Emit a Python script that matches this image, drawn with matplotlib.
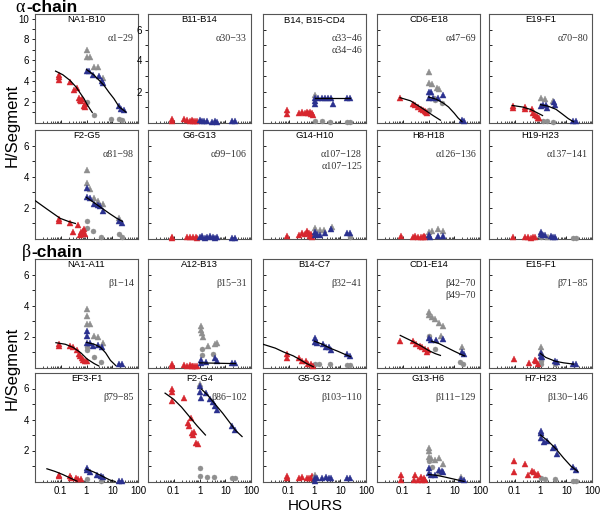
import matplotlib.pyplot as plt
from matplotlib.ticker import FixedLocator, NullFormatter

# panel titles (structural segments) and peptide labels, row by row
titles = ["NA1-B10", "B11-B14", "B14, B15-CD4", "CD6-E18", "E19-F1",
          "F2-G5", "G6-G13", "G14-H10", "H8-H18", "H19-H23",
          "NA1-A11", "A12-B13", "B14-C7", "CD1-E14", "E15-F1",
          "EF3-F1", "F2-G4", "G5-G12", "G13-H6", "H7-H23"]
segments = [["α1−29"], ["α30−33"], ["α33−46", "α34−46"], ["α47−69"], ["α70−80"],
            ["α81−98"], ["α99−106"], ["α107−128", "α107−125"], ["α126−136"], ["α137−141"],
            ["β1−14"], ["β15−31"], ["β32−41"], ["β42−70", "β49−70"], ["β71−85"],
            ["β79−85"], ["β86−102"], ["β103−110"], ["β111−129"], ["β130−146"]]
ymax = [10.45] + [7.0] * 19

# (hours, H/segment)
red_tri = {
    "NA1-B10": [(0.083, 4.6), (0.083, 4.1), (0.085, 4.4), (0.22, 3.9), (0.33, 3.1), (0.42, 3.3),
                (0.5, 2.4), (0.55, 2.2), (0.6, 2.1), (0.67, 2.3), (0.83, 1.6), (0.9, 1.5), (0.85, 1.8)],
    "B11-B14": [(0.083, 0.25), (0.083, 0.12), (0.25, 0.2), (0.33, 0.15), (0.42, 0.1), (0.5, 0.15),
                (0.58, 0.1), (0.67, 0.12), (0.83, 0.1)],
    "B14, B15-CD4": [(0.083, 0.8), (0.083, 0.55), (0.25, 0.6), (0.33, 0.65), (0.42, 0.6), (0.5, 0.7),
                     (0.58, 0.6), (0.67, 0.65), (0.75, 0.55), (0.83, 0.6), (0.9, 0.5)],
    "CD6-E18": [(0.08, 1.6), (0.26, 1.2), (0.3, 1.1), (0.4, 1.0), (0.5, 0.9), (0.6, 0.8),
                (0.7, 0.75), (0.8, 0.65), (0.9, 0.6)],
    "E19-F1": [(0.083, 1.05), (0.083, 0.95), (0.26, 1.0), (0.26, 0.9), (0.45, 0.85), (0.5, 0.6),
               (0.6, 0.5), (0.7, 0.4), (0.8, 0.3), (0.9, 0.3)],
    "F2-G5": [(0.083, 1.25), (0.083, 1.1), (0.22, 1.0), (0.3, 0.43), (0.45, 0.85), (0.55, 0.2),
              (0.6, 0.45), (0.7, 0.3), (0.72, 0.5), (0.8, 0.6), (0.85, 0.3)],
    "G6-G13": [(0.083, 0.1), (0.083, 0.05), (0.33, 0.08), (0.42, 0.1), (0.58, 0.1), (0.75, 0.08),
               (0.83, 0.05)],
    "G14-H10": [(0.083, 0.15), (0.25, 0.2), (0.33, 0.35), (0.42, 0.3), (0.5, 0.5), (0.6, 0.35),
                (0.67, 0.15), (0.75, 0.3), (0.83, 0.1)],
    "H8-H18": [(0.083, 0.15), (0.25, 0.1), (0.3, 0.15), (0.4, 0.1), (0.5, 0.12), (0.6, 0.1),
               (0.67, 0.15), (0.75, 0.1)],
    "H19-H23": [(0.083, 0.1), (0.25, 0.08), (0.33, 0.1), (0.42, 0.05), (0.5, 0.1), (0.6, 0.08)],
    "NA1-A11": [(0.083, 1.53), (0.083, 1.38), (0.23, 1.38), (0.3, 1.3), (0.42, 1.1), (0.5, 0.9),
                (0.58, 0.75), (0.65, 0.6), (0.7, 0.5), (0.85, 0.45), (1.0, 0.4)],
    "A12-B13": [(0.083, 0.2), (0.083, 0.1), (0.25, 0.15), (0.33, 0.1), (0.42, 0.15), (0.5, 0.1),
                (0.58, 0.08), (0.67, 0.1), (0.83, 0.12)],
    "B14-C7": [(0.083, 0.85), (0.083, 0.6), (0.25, 0.6), (0.33, 0.45), (0.48, 0.4), (0.55, 0.25),
               (0.7, 0.2), (0.9, 0.1)],
    "CD1-E14": [(0.08, 1.68), (0.25, 1.68), (0.33, 1.5), (0.45, 1.4), (0.55, 1.3), (0.7, 1.2),
                (0.85, 1.0), (0.95, 1.15)],
    "E15-F1": [(0.09, 0.52), (0.35, 0.3), (0.6, 0.5), (0.65, 0.4), (0.8, 0.25)],
    "EF3-F1": [(0.083, 0.45), (0.083, 0.35), (0.23, 0.35), (0.26, 0.2), (0.4, 0.2), (0.45, 0.15),
               (0.6, 0.15)],
    "F2-G4": [(0.083, 6.0), (0.083, 5.8), (0.083, 5.2), (0.25, 5.4), (0.35, 3.8), (0.38, 3.6),
              (0.45, 4.1), (0.5, 3.1), (0.55, 3.0), (0.6, 3.2), (0.75, 2.5), (0.85, 2.4)],
    "G5-G12": [(0.089, 0.35), (0.089, 0.2), (0.26, 0.25), (0.33, 0.3), (0.5, 0.2), (0.6, 0.25),
               (0.7, 0.2), (0.8, 0.35)],
    "G13-H6": [(0.083, 0.45), (0.083, 0.1), (0.3, 0.45), (0.28, 0.1), (0.4, 0.1), (0.5, 0.3),
               (0.58, 0.1), (0.67, 0.2), (0.75, 0.1)],
    "H7-H23": [(0.09, 1.3), (0.09, 0.6), (0.26, 1.15), (0.33, 0.45), (0.45, 0.7), (0.55, 0.6),
               (0.65, 0.45), (0.8, 0.5)],
}

blue_tri = {
    "NA1-B10": [(1.0, 5.0), (1.3, 4.95), (1.8, 4.55), (3.0, 4.45), (4.5, 3.8), (4.0, 4.0),
                (18, 1.55), (22, 1.3), (28, 1.2)],
    "B11-B14": [(1.0, 0.15), (1.2, 0.1), (1.5, 0.1), (2.0, 0.12), (3.0, 0.05), (4.0, 0.1),
                (5.0, 0.05), (18, 0.1), (25, 0.1)],
    "B14, B15-CD4": [(1.0, 1.6), (1.0, 1.4), (1.0, 1.2), (1.4, 1.6), (2.0, 1.55), (2.5, 1.55),
                     (3.2, 1.6), (4.2, 1.55), (5.4, 1.2), (18, 1.6), (24, 1.6)],
    "CD6-E18": [(1.0, 2.0), (1.2, 1.95), (1.0, 1.6), (1.5, 1.55), (2.3, 1.6), (3.5, 1.8),
                (20, 0.15), (24, 0.1)],
    "E19-F1": [(1.0, 1.05), (1.3, 1.1), (1.6, 1.1), (1.8, 0.95), (3.2, 1.3), (3.5, 1.1),
               (19, 0.1), (25, 0.1)],
    "F2-G5": [(1.0, 3.25), (1.0, 2.65), (1.4, 2.6), (2.0, 2.2), (2.8, 2.15), (3.3, 2.1),
              (4.5, 1.8), (18, 1.1), (25, 1.0)],
    "G6-G13": [(1.0, 0.1), (1.3, 0.15), (1.6, 0.05), (2.0, 0.12), (2.5, 0.15), (3.2, 0.1),
               (4.0, 0.05), (5.0, 0.1), (18, 0.05), (25, 0.05)],
    "G14-H10": [(1.0, 0.45), (1.0, 0.2), (1.3, 0.3), (1.6, 0.25), (2.5, 0.35), (4.5, 0.6),
                (18, 0.35), (24, 0.35)],
    "H8-H18": [(1.0, 0.2), (1.1, 0.1), (2.3, 0.15), (3.5, 0.15)],
    "H19-H23": [(1.0, 0.45), (1.0, 0.3), (1.2, 0.2), (1.5, 0.2), (2.5, 0.15), (3.0, 0.1), (3.5, 0.12)],
    "NA1-A11": [(1.0, 2.35), (1.0, 2.05), (1.0, 1.55), (1.4, 1.55), (1.8, 1.4), (2.8, 1.45),
                (4.0, 1.3), (18, 0.2), (25, 0.2)],
    "A12-B13": [(1.1, 0.5), (1.1, 0.3), (1.8, 0.35), (3.9, 0.6), (5.0, 0.4), (18, 0.3), (25, 0.3)],
    "B14-C7": [(1.0, 1.9), (1.0, 1.65), (1.3, 1.55), (2.1, 1.5), (2.8, 1.35), (3.7, 1.3),
               (4.2, 1.1), (18, 0.85), (24, 0.75)],
    "CD1-E14": [(1.0, 1.9), (1.3, 1.8), (1.9, 1.8), (3.5, 1.85), (20, 1.0), (25, 0.9)],
    "E15-F1": [(1.0, 0.95), (1.0, 0.75), (1.1, 0.7), (3.8, 0.45), (4.2, 0.35), (19, 0.25), (25, 0.25)],
    "EF3-F1": [(1.0, 0.85), (1.0, 0.75), (1.35, 0.6), (2.6, 0.4), (3.5, 0.35), (4.5, 0.3),
               (18, 0.05), (25, 0.05)],
    "F2-G4": [(1.0, 6.17), (1.0, 5.8), (1.1, 5.4), (1.8, 5.7), (2.6, 5.3), (3.3, 5.1), (4.0, 4.9),
              (4.8, 4.6), (18, 3.6), (24, 3.3)],
    "G5-G12": [(1.0, 0.2), (1.0, 0.05), (1.3, 0.2), (1.9, 0.25), (2.7, 0.3), (3.7, 0.25),
               (4.5, 0.25), (18, 0.2), (24, 0.2)],
    "G13-H6": [(1.0, 0.85), (1.0, 0.55), (1.3, 0.45), (1.8, 0.45), (2.5, 0.75), (3.2, 0.7),
               (3.6, 0.6), (18, 0.15), (24, 0.1)],
    "H7-H23": [(1.0, 3.25), (1.0, 3.1), (1.0, 2.8), (1.4, 2.55), (1.8, 2.6), (3.0, 2.15),
               (3.5, 2.25), (4.3, 1.75), (18, 0.95), (25, 0.75)],
}

gray_tri = {
    "NA1-B10": [(1.0, 7.0), (1.0, 6.3), (1.35, 6.3), (2.0, 5.35), (2.9, 5.3), (4.2, 4.25)],
    "B14, B15-CD4": [(1.0, 1.8)],
    "CD6-E18": [(1.0, 3.25), (1.0, 2.55), (1.4, 2.5), (2.1, 2.2), (2.6, 2.15)],
    "E19-F1": [(1.0, 1.6), (1.5, 1.5), (3.0, 1.4)],
    "F2-G5": [(1.0, 4.4), (1.0, 3.6), (1.35, 3.2), (2.0, 2.6), (2.8, 2.4), (4.2, 2.2), (18, 1.35)],
    "G14-H10": [(1.0, 0.7), (1.6, 0.55), (2.3, 0.55), (4.8, 0.75)],
    "H8-H18": [(1.0, 0.45), (1.35, 0.5), (2.4, 0.6), (3.5, 0.5)],
    "H19-H23": [(2.0, 0.12)],
    "NA1-A11": [(1.0, 3.8), (1.0, 3.35), (1.0, 2.8), (1.4, 2.8), (2.0, 2.05), (2.8, 2.0), (4.5, 1.6)],
    "A12-B13": [(1.1, 2.7), (1.1, 2.4), (1.2, 2.2), (1.4, 2.0), (2.1, 1.4), (3.9, 1.5), (4.6, 1.55)],
    "CD1-E14": [(1.0, 3.6), (1.0, 3.4), (1.35, 3.25), (1.8, 3.1), (2.5, 2.85), (3.5, 2.7),
                (3.0, 2.05), (20, 1.3)],
    "E15-F1": [(1.0, 1.3), (1.0, 1.0)],
    "F2-G4": [(1.0, 6.3)],
    "G5-G12": [(1.0, 0.45)],
    "G13-H6": [(1.0, 2.18), (1.0, 2.0), (1.0, 1.55), (1.3, 1.5), (1.8, 1.4), (2.5, 1.5),
               (3.5, 1.1), (18, 0.3)],
    "H7-H23": [(1.0, 3.1)],
}

gray_dot = {
    "NA1-B10": [(1.0, 2.0), (1.9, 0.7), (8.7, 0.35), (18, 0.3), (25, 0.25)],
    "B14, B15-CD4": [(1.0, 0.1), (2.0, 0.07), (4.0, 0.05), (18, 0.05), (24, 0.05)],
    "CD6-E18": [(1.6, 1.6), (1.8, 1.45), (1.0, 0.8), (3.2, 1.25)],
    "E19-F1": [(1.3, 0.1), (1.8, 0.07), (3.0, 0.05)],
    "F2-G5": [(1.0, 1.1), (1.0, 0.65), (1.8, 0.48), (3.7, 0.1), (18, 0.3), (25, 0.1)],
    "G14-H10": [(24, 0.1)],
    "H19-H23": [(1.0, 0.1), (19, 0.05), (25, 0.05)],
    "NA1-A11": [(1.0, 1.15), (1.0, 1.3), (2.0, 0.7), (3.6, 0.35)],
    "A12-B13": [(1.2, 1.2), (3.4, 0.9), (1.2, 0.8)],
    "B14-C7": [(1.0, 0.2), (1.5, 0.2), (3.9, 0.2), (18, 0.15), (24, 0.15)],
    "CD1-E14": [(1.0, 2.05), (1.8, 1.2), (17, 0.35), (22, 0.25)],
    "E15-F1": [(1.0, 0.4), (1.0, 0.25), (3.8, 0.25)],
    "EF3-F1": [(1.0, 0.15), (3.6, 0.05)],
    "F2-G4": [(1.0, 0.9), (1.0, 0.35), (2.0, 0.3), (3.5, 0.3), (18, 0.2), (24, 0.2)],
    "G13-H6": [(1.0, 1.3), (1.4, 0.95), (2.5, 0.55)],
    "H7-H23": [(1.0, 0.25), (1.5, 0.15), (3.5, 0.15), (18, 0.05), (25, 0.05)],
}

# fitted curves
fits = {
    "NA1-B10": [([0.063, 0.12, 0.23, 0.4, 0.58, 0.8, 1.05, 1.4, 1.67],
                 [4.95, 4.6, 4.05, 3.4, 2.8, 2.3, 1.75, 1.25, 0.97]),
                ([1, 1.9, 3, 4.7, 7.5, 11.6, 18.6, 34],
                 [5.1, 4.6, 4.1, 3.6, 2.9, 2.3, 1.5, 1.0])],
    "B14, B15-CD4": [([1, 25], [1.6, 1.6])],
    "CD6-E18": [([0.079, 0.2, 0.48, 0.9, 1.5, 2.9], [1.6, 1.4, 1.0, 0.7, 0.45, 0.15]),
                ([1, 2, 3.8, 6, 10, 14, 20], [1.65, 1.5, 1.25, 1.0, 0.6, 0.3, 0.05])],
    "E19-F1": [([0.08, 0.2, 0.4, 0.7, 1.2], [1.1, 1.0, 0.85, 0.65, 0.45]),
               ([1, 2, 4, 7, 12, 19], [1.15, 1.05, 0.85, 0.55, 0.25, 0.05])],
    "F2-G5": [([0.01, 0.029, 0.095, 0.2, 0.37], [2.45, 1.9, 1.3, 1.1, 0.97]),
              ([1, 2, 4, 8, 15, 25], [2.65, 2.3, 1.95, 1.6, 1.3, 1.1])],
    "NA1-A11": [([0.065, 0.15, 0.3, 0.6, 1.05, 2, 3], [1.6, 1.5, 1.3, 0.95, 0.55, 0.25, 0.1]),
                ([1, 2, 3.5, 5.5, 8.5, 13.6], [1.62, 1.5, 1.3, 0.95, 0.46, 0.13])],
    "A12-B13": [([1, 25], [0.3, 0.25])],
    "B14-C7": [([0.01, 0.03, 0.063, 0.15, 0.28, 0.5, 0.9], [1.5, 1.25, 1.0, 0.75, 0.5, 0.25, 0.05]),
               ([1, 2, 4, 8, 15, 25], [1.7, 1.5, 1.25, 1.05, 0.85, 0.7])],
    "CD1-E14": [([0.08, 0.2, 0.48, 1.0, 1.8, 2.9], [2.07, 1.75, 1.42, 1.1, 0.9, 0.78]),
                ([1.3, 2.5, 5, 10, 18, 25], [1.7, 1.55, 1.3, 1.05, 0.85, 0.75])],
    "E15-F1": [([1, 1.6, 3.8, 8, 19], [0.9, 0.65, 0.4, 0.3, 0.22])],
    "EF3-F1": [([0.029, 0.06, 0.12, 0.25, 0.43], [0.82, 0.65, 0.45, 0.2, 0.02]),
               ([1, 2, 4, 8, 13], [0.8, 0.6, 0.35, 0.1, 0.0])],
    "F2-G4": [([0.046, 0.1, 0.2, 0.4, 0.8, 1.7], [5.7, 5.3, 4.8, 4.2, 3.6, 3.0]),
              ([1.2, 2, 4, 8, 15, 25, 45], [5.95, 5.6, 5.0, 4.4, 3.8, 3.3, 2.9])],
    "G13-H6": [([1, 2, 4, 10, 24], [0.45, 0.4, 0.3, 0.15, 0.0])],
    "H7-H23": [([1, 2, 4, 8, 15, 28], [3.0, 2.6, 2.1, 1.5, 1.0, 0.65])],
}

RED = "#d7262e"
BLUE = "#2b318f"
GRAY = "#8f8f8f"
SANS = "Liberation Sans"
SERIF = "Liberation Serif"

W, H = 600, 517
col_left = [35, 148, 263, 377, 489]
row_top = [14, 130, 259, 373]
pw, ph = 103, 108.5

fig = plt.figure(figsize=(W / 100, H / 100), dpi=100)

for i, name in enumerate(titles):
    r, c = divmod(i, 5)
    ax = fig.add_axes([col_left[c] / W, 1 - (row_top[r] + ph) / H, pw / W, ph / H])
    ax.set_xscale("log")
    ax.set_xlim(0.01, 100)
    ax.set_ylim(0, ymax[i])

    for pts, color, mk, ms in [(gray_dot.get(name, []), GRAY, "o", 3.6),
                               (red_tri.get(name, []), RED, "^", 4.6),
                               (gray_tri.get(name, []), GRAY, "^", 4.6),
                               (blue_tri.get(name, []), BLUE, "^", 4.6)]:
        if pts:
            t, h = zip(*pts)
            ax.plot(t, h, ls="none", marker=mk, ms=ms, color=color,
                    mec=color, mew=0.3, clip_on=False, zorder=3)
    for t, h in fits.get(name, []):
        ax.plot(t, h, color="black", lw=0.9, zorder=4)

    ax.text(0.5, 0.945, name, transform=ax.transAxes, ha="center", va="center",
            fontsize=6.8, family=SANS)
    for k, seg in enumerate(segments[i]):
        ax.text(0.96, 0.77 - 0.11 * k, seg, transform=ax.transAxes, ha="right",
                va="center", fontsize=7.2, family=SERIF, color="#333333")

    for s in ax.spines.values():
        s.set_color("#555555")
        s.set_linewidth(0.8)

    # x ticks
    ax.xaxis.set_major_locator(FixedLocator([0.01, 0.1, 1, 10, 100]))
    ax.xaxis.set_minor_locator(FixedLocator(
        [m * 10.0 ** e for e in range(-2, 2) for m in range(2, 10)]))
    ax.xaxis.set_minor_formatter(NullFormatter())
    ax.tick_params(axis="x", which="major", direction="in", length=2.5, width=0.6,
                   labelsize=7, pad=3)
    ax.tick_params(axis="x", which="minor", direction="in", length=1.5, width=0.5)
    if r == 3:
        ax.set_xticklabels(["", "0.1", "1", "10", "100"], family=SANS)
    else:
        ax.set_xticklabels([])

    # y ticks
    labelled = (c == 0) or (r == 0 and c == 1)
    if i == 0:
        ax.set_yticks([2, 4, 6, 8, 10])
        ax.set_yticks([1, 3, 5, 7, 9], minor=True)
    else:
        ax.set_yticks([1, 2, 3, 4, 5, 6])
    if labelled:
        if i == 0:
            ax.set_yticklabels(["2", "4", "6", "8", "10"], family=SANS)
        else:
            ax.set_yticklabels(["", "2", "", "4", "", "6"], family=SANS)
        ax.tick_params(axis="y", which="both", direction="out", length=2.5, width=0.6,
                       labelsize=7, pad=2)
    else:
        ax.set_yticklabels([])
        ax.tick_params(axis="y", which="both", direction="in", length=2.5, width=0.6)

# chain headers
fig.text(15 / W, 1 - 12.5 / H, "α", family=SERIF, fontsize=13, ha="left", va="baseline")
fig.text(26 / W, 1 - 12.5 / H, "-chain", family=SANS, fontsize=12.5, weight="bold",
         ha="left", va="baseline")
fig.text(22 / W, 1 - 257 / H, "β", family=SERIF, fontsize=13, ha="left", va="baseline")
fig.text(31 / W, 1 - 257 / H, "-chain", family=SANS, fontsize=12.5, weight="bold",
         ha="left", va="baseline")

# axis titles
fig.text(12 / W, 1 - 125 / H, "H/Segment", rotation=90, ha="center", va="center",
         family=SANS, fontsize=12)
fig.text(12 / W, 1 - 368 / H, "H/Segment", rotation=90, ha="center", va="center",
         family=SANS, fontsize=12)
fig.text(315 / W, 1 - 506 / H, "HOURS", ha="center", va="center", family=SANS, fontsize=11)

fig.savefig("out.png", dpi=100)
